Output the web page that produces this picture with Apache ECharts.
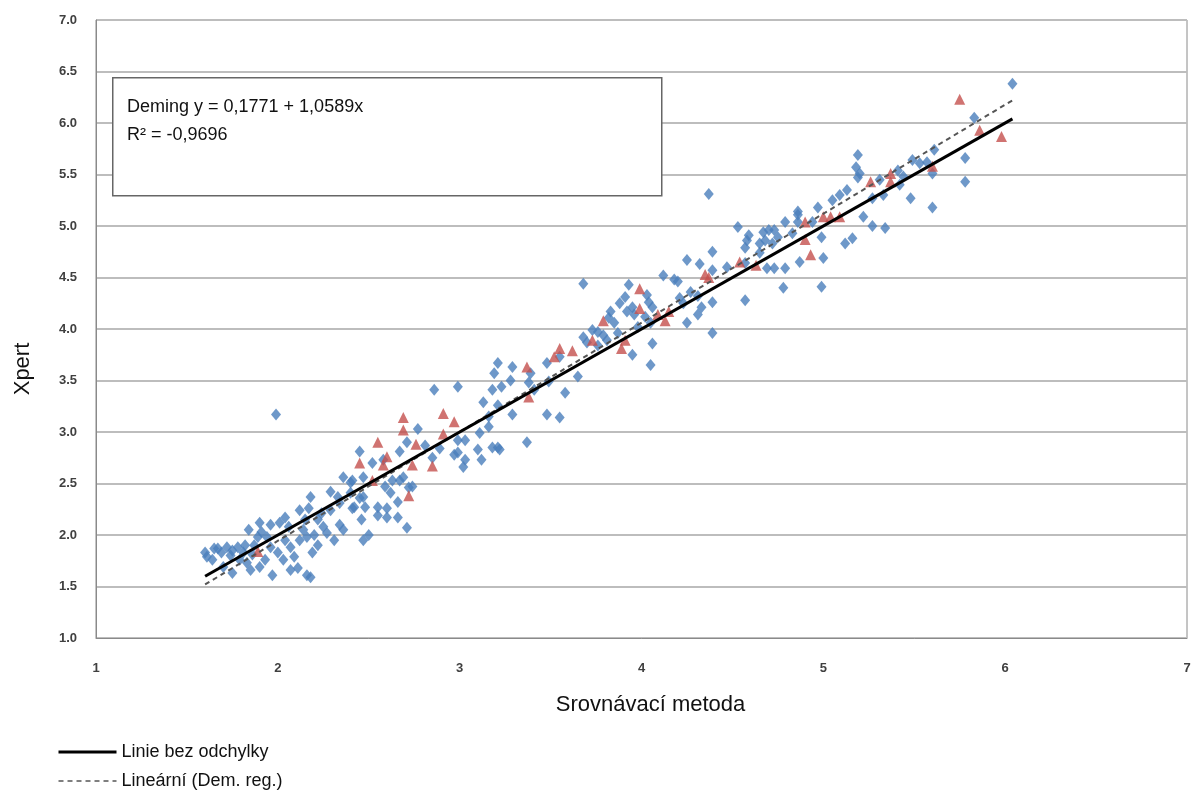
<!DOCTYPE html>
<html><head><meta charset="utf-8">
<script src="https://cdn.jsdelivr.net/npm/echarts@6/dist/echarts.min.js"></script>
<style>html,body{margin:0;padding:0;background:#fff}#c{width:1193px;height:795px}</style>
</head><body><div id="c"></div>
<script>
const xTicks = [1,2,3,4,5,6,7];
const yTicks = [1.0,1.5,2.0,2.5,3.0,3.5,4.0,4.5,5.0,5.5,6.0,6.5,7.0];
const legendNames = ['Linie bez odchylky','Lineární (Dem. reg.)'];
const boxLines = ['Deming y = 0,1771 + 1,0589x','R² = -0,9696'];

const bluePoints = [
[1.60,1.83],[1.61,1.79],[1.64,1.76],[1.69,1.83],[1.72,1.88],[1.75,1.85],[1.78,1.88],[1.81,1.83],
[1.70,1.69],[1.75,1.63],[1.79,1.76],[1.83,1.73],[1.85,1.66],[1.84,2.05],[1.87,1.90],[1.90,2.12],
[1.91,2.03],[1.94,1.98],[1.96,1.88],[1.93,1.76],[1.90,1.69],[1.97,1.61],[2.00,1.83],[2.01,2.12],
[2.04,2.17],[2.06,2.08],[2.07,1.88],[2.03,1.76],[2.07,1.66],[2.11,1.68],[2.16,1.61],[2.18,1.59],
[2.12,1.95],[2.14,2.05],[2.15,2.15],[2.12,2.24],[2.17,2.26],[2.18,2.37],[2.16,1.98],[2.19,1.83],
[2.20,2.00],[2.22,2.15],[2.24,2.21],[2.25,2.08],[2.27,2.02],[2.29,2.42],[2.33,2.37],[2.34,2.10],
[2.36,2.05],[2.36,2.56],[2.40,2.51],[2.42,2.27],[2.47,2.37],[2.46,2.15],[2.47,1.95],[1.99,3.17],
[1.67,1.87],[1.74,1.80],[1.82,1.90],[1.86,1.81],[1.65,1.87],[1.89,1.98],[2.04,1.95],[2.09,1.79],
[1.96,2.10],[2.22,1.90],[2.29,2.24],[2.31,1.95],
[2.45,2.81],[2.52,2.70],[2.58,2.73],[2.67,2.81],[2.71,2.90],[2.77,3.03],[2.81,2.87],[2.85,2.75],
[2.89,2.84],[2.99,2.92],[3.03,2.92],[2.97,2.78],[3.03,2.73],[3.10,2.83],[3.12,2.73],[3.11,2.99],
[3.16,3.05],[3.18,2.85],[3.21,2.85],[3.02,2.66],[2.41,2.53],[2.47,2.56],[2.63,2.53],[2.67,2.53],
[2.69,2.56],[2.59,2.47],[2.62,2.41],[2.72,2.46],[2.40,2.41],[2.45,2.36],[2.34,2.31],[2.41,2.26],
[2.48,2.27],[2.55,2.27],[2.60,2.26],[2.66,2.32],[2.55,2.19],[2.60,2.17],[2.66,2.17],[2.71,2.07],
[2.50,2.00],[2.74,2.47],[2.86,3.41],[2.99,3.44],[3.13,3.29],[3.18,3.41],[3.21,3.26],
[3.68,4.44],[3.93,4.43],[4.12,4.52],[4.20,4.46],[3.91,4.31],[3.88,4.25],[3.92,4.17],[3.83,4.17],
[3.82,4.11],[3.85,4.06],[3.76,3.97],[3.73,3.99],[3.68,3.92],[3.70,3.87],[3.76,3.84],[3.79,3.94],
[3.81,3.89],[3.87,3.96],[4.03,4.33],[4.04,4.26],[4.06,4.21],[3.95,4.21],[3.96,4.14],[4.02,4.12],
[4.05,4.06],[3.98,4.02],[4.06,3.86],[3.95,3.75],[4.05,3.65],[3.21,3.67],[3.19,3.57],[3.29,3.63],
[3.28,3.50],[3.23,3.44],[3.39,3.57],[3.38,3.48],[3.41,3.41],[3.48,3.67],[3.49,3.49],[3.55,3.73],
[3.58,3.38],[3.65,3.54],[3.48,3.17],[3.55,3.14],[3.29,3.17],[3.37,2.90],[2.99,2.80],[3.22,2.83],
[3.16,3.15],
[4.25,4.67],[4.32,4.63],[4.39,4.57],[4.47,4.60],[4.27,4.36],[4.31,4.32],[4.23,4.25],[4.39,4.26],
[4.33,4.21],[4.31,4.14],[4.25,4.06],[4.39,3.96],
[4.37,5.31],[4.53,4.99],[4.59,4.91],[4.58,4.86],[4.67,4.94],[4.70,4.96],[4.73,4.96],[4.75,4.89],
[4.68,4.86],[4.72,4.83],[4.65,4.83],[4.79,5.04],[4.86,5.11],[4.86,5.04],[4.83,4.93],[4.97,5.18],
[4.94,5.04],[4.99,4.89],[5.12,4.83],[5.16,4.88],[4.57,4.79],[4.39,4.75],[4.57,4.64],[4.65,4.74],
[4.69,4.59],[4.73,4.59],[4.79,4.59],[4.87,4.65],[5.00,4.69],[4.78,4.40],[4.99,4.41],[4.57,4.28],
[4.21,4.30],[4.18,4.48],
[5.19,5.69],[5.18,5.57],[5.20,5.51],[5.19,5.47],[5.31,5.45],[5.41,5.54],[5.44,5.48],[5.42,5.40],
[5.49,5.64],[5.53,5.61],[5.57,5.62],[5.60,5.51],[5.48,5.27],[5.60,5.18],[5.09,5.30],[5.13,5.35],
[5.05,5.25],[4.86,5.14],[5.22,5.09],[5.27,5.00],[5.34,4.98],[5.61,5.74],[5.33,5.30],[5.27,5.27],
[5.78,5.66],[5.78,5.43],[6.04,6.38],[5.83,6.05]
];

const redPoints = [
[1.89,1.84],[2.45,2.70],[2.52,2.53],[2.55,2.90],[2.60,2.76],[2.58,2.68],[2.69,3.14],[2.69,3.02],
[2.72,2.38],[2.74,2.68],[2.76,2.88],[2.85,2.67],[2.91,3.18],[2.97,3.10],[2.91,2.98],[3.37,3.63],
[3.38,3.34],[3.52,3.73],[3.55,3.81],[3.62,3.79],[3.73,3.89],[3.79,4.08],[3.89,3.81],[3.91,3.89],
[3.99,4.39],[3.99,4.20],[4.09,4.14],[4.13,4.08],[4.15,4.17],[4.35,4.53],[4.37,4.50],[4.54,4.65],
[4.63,4.62],[4.90,5.04],[4.90,4.87],[4.93,4.72],[5.00,5.09],[5.04,5.09],[5.09,5.09],[5.26,5.43],
[5.37,5.51],[5.37,5.43],[5.60,5.58],[5.75,6.23],[5.86,5.93],[5.98,5.87]
];

const identityLine = [[1.6,1.6],[6.04,6.04]];
const demingLine = [[1.6,1.52],[6.04,6.22]];

const FONT = '"Liberation Sans", Arial, sans-serif';
const chart = echarts.init(document.getElementById('c'));
chart.setOption({
  animation: false,
  backgroundColor: '#fff',
  grid: {left: 96, right: 6, top: 20, bottom: 157, show: true, borderColor: '#8a8a8a', borderWidth: 1,
         outerBoundsMode: 'none', containLabel: false},
  xAxis: {
    type: 'value', min: xTicks[0], max: xTicks[xTicks.length-1], interval: 1,
    name: 'Srovnávací metoda', nameLocation: 'middle', nameGap: 56,
    nameTextStyle: {fontFamily: FONT, fontSize: 22, color: '#111', padding: [0, 0, 0, 18]},
    axisLine: {show: true, lineStyle: {color: '#8a8a8a', width: 1}},
    axisTick: {show: false},
    axisLabel: {margin: 24, fontFamily: FONT, fontSize: 13, fontWeight: 'bold', color: '#404040'},
    splitLine: {show: false}
  },
  yAxis: {
    type: 'value', min: yTicks[0], max: yTicks[yTicks.length-1], interval: 0.5,
    name: 'Xpert', nameLocation: 'middle', nameGap: 62, nameRotate: 90,
    nameTextStyle: {fontFamily: FONT, fontSize: 22, color: '#111', padding: [0, 80, 0, 0]},
    axisLine: {show: true, lineStyle: {color: '#8a8a8a', width: 1}},
    axisTick: {show: false},
    axisLabel: {margin: 19, fontFamily: FONT, fontSize: 13, fontWeight: 'bold', color: '#404040',
      formatter: v => v.toFixed(1)},
    splitLine: {show: true, lineStyle: {color: '#bdbdbd', width: 2}}
  },
  legend: {
    data: [
      {name: legendNames[0], lineStyle: {width: 3, color: '#000'}},
      {name: legendNames[1], lineStyle: {width: 1.5, color: '#555', type: [5, 4]}}
    ],
    orient: 'vertical', left: 52, top: 738, itemWidth: 58, itemHeight: 12, itemGap: 11,
    textStyle: {fontFamily: FONT, fontSize: 18, color: '#111'},
    itemStyle: {opacity: 0},
    selectedMode: false
  },
  graphic: [
    {type: 'rect', left: 112, top: 77, z: 100,
     shape: {width: 549, height: 118},
     style: {fill: '#fff', stroke: '#666', lineWidth: 1.5}},
    {type: 'text', left: 127, top: 93, z: 101,
     style: {text: boxLines.join('\n'), fontFamily: FONT, fontSize: 18, lineHeight: 28, fill: '#111'}}
  ],
  series: [
    {type: 'scatter', name: 'Xpert pos', data: bluePoints, symbol: 'diamond', symbolSize: [10, 12],
     itemStyle: {color: '#4a7ebb'}, z: 2, silent: true},
    {type: 'scatter', name: 'Xpert neg', data: redPoints, symbol: 'triangle', symbolSize: [11, 11],
     itemStyle: {color: '#c4504d'}, z: 3, silent: true},
    {type: 'line', name: legendNames[0], data: identityLine, symbol: 'none', z: 5,
     lineStyle: {color: '#000', width: 3}, itemStyle: {color: '#000'}},
    {type: 'line', name: legendNames[1], data: demingLine, symbol: 'none', z: 4,
     lineStyle: {color: '#555', width: 2, type: [5, 4]}, itemStyle: {color: '#555'}}
  ]
});
</script></body></html>
